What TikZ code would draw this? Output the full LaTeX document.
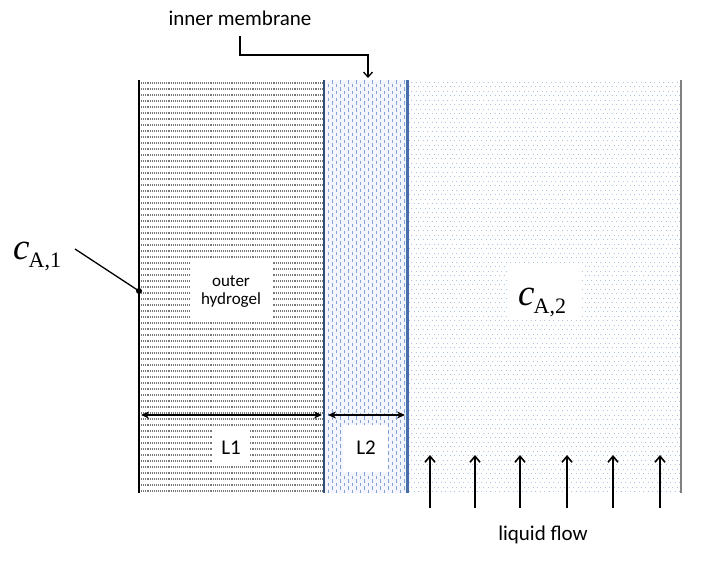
\documentclass[tikz,border=0pt]{standalone}
\usepackage{fontspec}
\setmainfont{Carlito}
\newfontfamily\tms{Liberation Serif}
\usetikzlibrary{arrows.meta}
\definecolor{memblue}{RGB}{70,110,170}
\definecolor{dashblue}{RGB}{125,165,215}
\definecolor{dotblue}{RGB}{170,198,230}
\definecolor{hatch}{RGB}{120,120,120}
\tikzset{
  lbl/.style={font=\fontsize{21}{24}\selectfont, inner sep=2pt},
  conc/.style={inner sep=0pt, anchor=base west, font=\tms\fontsize{37}{40}\selectfont},
  dimarrow/.style={{Stealth[length=8pt,width=7pt]}-{Stealth[length=8pt,width=7pt]}, line width=2pt},
  flowarrow/.style={-{Straight Barb[length=6pt,width=10pt]}, line width=1.6pt},
  callout/.style={line width=1.3pt},
}
\newcommand{\concsub}[1]{\kern-1pt\raisebox{-8pt}{\upshape\fontsize{22}{24}\selectfont #1}}
\begin{document}
\begin{tikzpicture}[x=1pt,y=-1pt]
\useasboundingbox (0,0) rectangle (703,562);
% hydrogel hatch
\begin{scope}
\clip (139,80) rectangle (324,493);
\foreach \yy in {83,89,...,494} {
  \draw[hatch, line width=1.1pt, dash pattern=on 1.1pt off 1pt] (139,\yy) -- (324,\yy);
}
\end{scope}
% membrane
\fill[blue!4] (324,80) rectangle (407,493);
\begin{scope}
\clip (324,80) rectangle (407,493);
\foreach \xx [count=\i] in {328,332,...,406} {
  \pgfmathsetmacro{\ph}{mod(\i,2)*3.5}
  \draw[dashblue, line width=1pt, dash pattern=on 3.5pt off 3.5pt, dash phase=\ph pt] (\xx,80) -- (\xx,493);
}
\end{scope}
% liquid dots
\begin{scope}
\clip (409,80) rectangle (681,493);
\foreach \yy [count=\i] in {82,86.5,...,494} {
  \pgfmathsetmacro{\ph}{mod(\i,2)*2.25}
  \draw[dotblue, line width=1pt, dash pattern=on 1pt off 3.5pt, dash phase=\ph pt] (409,\yy) -- (681,\yy);
}
\end{scope}
% borders
\draw[line width=2.4pt] (139,80) -- (139,493);
\draw[line width=2.6pt, memblue!70!black] (324,80) -- (324,493);
\draw[line width=3pt, memblue] (407,80) -- (407,493);
\draw[line width=1.2pt, gray] (681,80) -- (681,493);
% white label boxes
\fill[white] (190,262) rectangle (272,322);
\fill[white] (212,430) rectangle (249,465);
\fill[white] (343,425) rectangle (388,472);
\fill[white] (507,265) rectangle (582,320);
% texts
\node[inner sep=0pt] (oh) at (231,292) {\fontsize{17}{19}\selectfont\begin{tabular}{@{}c@{}}outer\\[-1pt]hydrogel\end{tabular}};
\node[lbl] (l1) at (231,448) {L1};
\node[lbl] (l2) at (366,448) {L2};
\node[lbl] (im) at (240,18) {inner membrane};
\node[lbl] (lf) at (543,535) {liquid flow};
\node[conc] (ca1) at (13,259) {\itshape c\concsub{A,1}};
\node[conc] (ca2) at (518,305) {\itshape c\concsub{A,2}};
% callouts
\coordinate (imA) at (240,36);
\coordinate (imB) at (240,55);
\coordinate (imC) at (368,55);
\coordinate (imD) at (368,78);
\draw[callout, -{Straight Barb[length=5pt,width=9pt]}] (imA) -- (imB) -- (imC) -- (imD);
\coordinate (c1a) at (75,249);
\coordinate (c1b) at (139,291);
\draw[callout] (c1a) -- (c1b);
\fill (c1b) circle (3pt);
% dimension arrows
\coordinate (d1a) at (141,415);
\coordinate (d1b) at (322,415);
\coordinate (d2a) at (328,415);
\coordinate (d2b) at (405,415);
\draw[dimarrow] (d1a) -- (d1b);
\draw[dimarrow] (d2a) -- (d2b);
% flow arrows
\foreach \xx [count=\k] in {430,475,520,567,613,660} {
  \coordinate (fa\k) at (\xx,508);
  \coordinate (fb\k) at (\xx,455);
  \draw[flowarrow] (fa\k) -- (fb\k);
}
\end{tikzpicture}
\end{document}
